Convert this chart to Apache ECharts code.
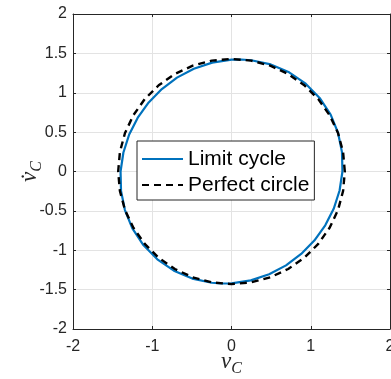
<!DOCTYPE html>
<html>
<head>
<meta charset="utf-8">
<script src="https://cdn.jsdelivr.net/npm/echarts@6/dist/echarts.min.js"></script>
<style>
  html, body { margin: 0; padding: 0; background: #fff; }
  #chart { width: 391px; height: 379px; }
</style>
</head>
<body>
<div id="chart"></div>
<script>
// Axis ticks (both axes span -2 .. 2)
const xTicks = [-2, -1, 0, 1, 2];
const yTicks = [-2, -1.5, -1, -0.5, 0, 0.5, 1, 1.5, 2];

const seriesNames = ['Limit cycle', 'Perfect circle'];

// Simulated steady-state orbit in the (v_C, dv_C/dt) plane
const limitCycle = [
  [1.400, 0.000], [1.394, 0.246], [1.345, 0.490], [1.251, 0.722],
  [1.112, 0.934], [0.936, 1.115], [0.727, 1.259], [0.495, 1.360],
  [0.249, 1.413], [0.124, 1.422], [0.000, 1.420], [-0.244, 1.383],
  [-0.475, 1.305], [-0.688, 1.192], [-0.879, 1.047], [-1.045, 0.877],
  [-1.183, 0.683], [-1.291, 0.470], [-1.364, 0.241], [-1.400, 0.000],
  [-1.394, -0.246], [-1.345, -0.490], [-1.251, -0.722], [-1.112, -0.934],
  [-0.936, -1.115], [-0.727, -1.259], [-0.495, -1.360], [-0.249, -1.413],
  [-0.124, -1.422], [0.000, -1.420], [0.244, -1.383], [0.475, -1.305],
  [0.688, -1.192], [0.879, -1.047], [1.045, -0.877], [1.183, -0.683],
  [1.291, -0.470], [1.364, -0.241], [1.400, 0.000]
];

// Reference circle for comparison
const perfectCircle = [
  [1.430, 0.000], [1.408, 0.248], [1.344, 0.489], [1.238, 0.715],
  [1.095, 0.919], [0.919, 1.095], [0.715, 1.238], [0.489, 1.344],
  [0.248, 1.408], [0.000, 1.430], [-0.248, 1.408], [-0.489, 1.344],
  [-0.715, 1.238], [-0.919, 1.095], [-1.095, 0.919], [-1.238, 0.715],
  [-1.344, 0.489], [-1.408, 0.248], [-1.430, 0.000], [-1.408, -0.248],
  [-1.344, -0.489], [-1.238, -0.715], [-1.095, -0.919], [-0.919, -1.095],
  [-0.715, -1.238], [-0.489, -1.344], [-0.248, -1.408], [0.000, -1.430],
  [0.248, -1.408], [0.489, -1.344], [0.715, -1.238], [0.919, -1.095],
  [1.095, -0.919], [1.238, -0.715], [1.344, -0.489], [1.408, -0.248],
  [1.430, 0.000]
];

const ink = '#262626';
const gridColor = '#e3e3e3';
const sans = '"Liberation Sans", Arial, sans-serif';
const serif = '"Liberation Serif", "Times New Roman", serif';

function axisBase(ticks, extra) {
  return Object.assign({
    type: 'value',
    min: ticks[0],
    max: ticks[ticks.length - 1],
    interval: ticks[1] - ticks[0],
    axisLine: { show: true, onZero: false, lineStyle: { color: ink, width: 1 } },
    axisTick: { show: true, inside: true, length: 3, lineStyle: { color: ink, width: 1 } },
    splitLine: { show: false },
    axisLabel: { show: false }
  }, extra);
}

const tickLabel = {
  show: true, color: ink, fontFamily: sans, fontSize: 16,
  showMinLabel: true, showMaxLabel: true
};

const nameRich = {
  v: { fontFamily: serif, fontStyle: 'italic', fontSize: 23, lineHeight: 30, color: ink, verticalAlign: 'middle' },
  c: { fontFamily: serif, fontStyle: 'italic', fontSize: 16, lineHeight: 18, color: ink, verticalAlign: 'bottom' }
};

const chart = echarts.init(document.getElementById('chart'), null, { renderer: 'canvas' });

chart.setOption({
  animation: false,
  backgroundColor: '#fff',
  grid: { left: 73, right: 1, top: 14, bottom: 50, outerBoundsMode: 'none' },
  xAxis: [
    axisBase(xTicks, {
      position: 'bottom',
      splitLine: { show: true, lineStyle: { color: gridColor, width: 1 } },
      axisLabel: Object.assign({ margin: 10 }, tickLabel),
      name: '{v|v}{c|C}',
      nameLocation: 'middle',
      nameGap: 18,
      nameMoveOverlap: false,
      nameTextStyle: { rich: nameRich }
    }),
    axisBase(xTicks, { position: 'top' })
  ],
  yAxis: [
    axisBase(yTicks, {
      position: 'left',
      splitLine: { show: true, lineStyle: { color: gridColor, width: 1 } },
      axisLabel: Object.assign({ margin: 6 }, tickLabel),
      name: '{v|v\u0307}{c|C}',
      nameLocation: 'middle',
      nameGap: 28,
      nameMoveOverlap: false,
      nameTextStyle: { rich: nameRich }
    }),
    axisBase(yTicks, { position: 'right' })
  ],
  legend: {
    data: seriesNames,
    orient: 'vertical',
    left: 137,
    top: 141,
    itemWidth: 41,
    itemHeight: 14,
    itemGap: 0,
    padding: [5, 5, 2, 4],
    borderColor: ink,
    borderWidth: 1,
    backgroundColor: '#fff',
    itemStyle: { opacity: 0 },
    textStyle: { fontFamily: sans, fontSize: 21, lineHeight: 26, color: '#000' }
  },
  series: [
    {
      name: seriesNames[0],
      type: 'line',
      data: limitCycle,
      symbol: 'none',
      showSymbol: false,
      lineStyle: { color: '#0072BD', width: 2.2 },
      itemStyle: { color: '#0072BD' },
      z: 2
    },
    {
      name: seriesNames[1],
      type: 'line',
      data: perfectCircle,
      symbol: 'none',
      showSymbol: false,
      lineStyle: { color: '#000', width: 2.4, type: [7, 5] },
      itemStyle: { color: '#000' },
      z: 3
    }
  ]
});
</script>
</body>
</html>
